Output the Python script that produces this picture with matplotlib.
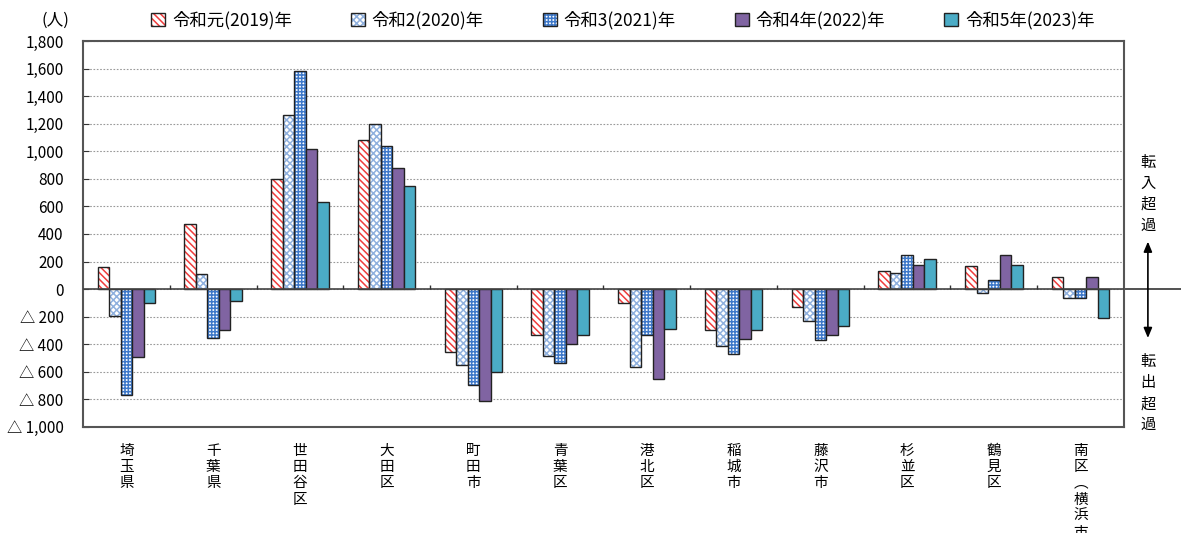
import numpy as np
import matplotlib
matplotlib.use("Agg")
import matplotlib.pyplot as plt
from matplotlib.patches import Patch
from matplotlib.legend_handler import HandlerTuple
from matplotlib.ticker import FuncFormatter, MultipleLocator

plt.rcParams['font.family'] = ['Noto Sans CJK JP', 'DejaVu Sans']
plt.rcParams['hatch.linewidth'] = 1.1

# data (人) - net migration by area
areas = ["埼玉県", "千葉県", "世田谷区", "大田区", "町田市", "青葉区", "港北区",
         "稲城市", "藤沢市", "杉並区", "鶴見区", "南区︵横浜市︶"]
years = ["令和元(2019)年", "令和2(2020)年", "令和3(2021)年", "令和4年(2022)年", "令和5年(2023)年"]
r2019 = [160, 470, 800, 1085, -455, -335, -100, -300, -130, 135, 170, 90]
r2020 = [-195, 110, 1260, 1200, -550, -485, -565, -415, -230, 120, -30, -65]
r2021 = [-770, -355, 1585, 1035, -695, -535, -330, -470, -370, 250, 65, -65]
r2022 = [-490, -295, 1015, 880, -815, -395, -650, -365, -330, 175, 245, 85]
r2023 = [-100, -85, 630, 750, -600, -330, -290, -295, -265, 220, 175, -210]
series = [r2019, r2020, r2021, r2022, r2023]

# style: (face, hatch colour, hatch)
styles = [("white", "#f03c3c", "\\\\\\\\\\"),
          ("white", "#8fb0de", "xxxxx"),
          ("white", "#3d78c9", "+++++"),
          ("#8064a2", None, None),
          ("#4bacc6", None, None)]
edge = "#222222"

fig = plt.figure(figsize=(11.81, 5.33), dpi=100)
ax = fig.add_axes([0.0703, 0.199, 0.8814, 0.724])

x = np.arange(len(areas))
w = 0.133
handles = []
for i, (vals, (face, hc, h)) in enumerate(zip(series, styles)):
    pos = x + (i - 2) * w
    if h:
        ax.bar(pos, vals, w, color=face, edgecolor=hc, hatch=h, linewidth=0, zorder=3)
        ax.bar(pos, vals, w, fill=False, edgecolor=edge, linewidth=1, zorder=4)
        handles.append((Patch(facecolor=face, edgecolor=hc, hatch=h, linewidth=0),
                        Patch(fill=False, edgecolor=edge, linewidth=1)))
    else:
        ax.bar(pos, vals, w, color=face, edgecolor=edge, linewidth=1, zorder=4)
        handles.append(Patch(facecolor=face, edgecolor=edge, linewidth=1))

ax.set_xlim(-0.5, len(areas) - 0.5)
ax.set_ylim(-1000, 1800)
ax.yaxis.set_major_locator(MultipleLocator(200))
ax.yaxis.set_major_formatter(FuncFormatter(
    lambda v, p: f"{v:,.0f}" if v >= 0 else f"△ {-v:,.0f}"))
ax.yaxis.grid(True, linestyle=(0, (1.5, 1.5)), color="#999999", linewidth=0.8, zorder=0)
ax.tick_params(axis="y", direction="in", length=4, labelsize=11, pad=14, colors="#333333",
               labelcolor="black")
ax.set_xticks(x)
ax.set_xticklabels(["\n".join(a) for a in areas], fontsize=10.5, linespacing=1.22, va="top")
ax.tick_params(axis="x", length=0, pad=12)
for s in ax.spines.values():
    s.set_color("#555555")
    s.set_linewidth(1.5)

ax.axhline(0, color="#444444", linewidth=1.2, zorder=5)
ax.vlines(np.arange(0.5, len(areas) - 0.5), 0, 30, color="#333333", linewidth=1, zorder=5)

# right side annotation
ax.plot([1.0, 1.06], [0, 0], color="#333333", linewidth=1.2,
        transform=ax.get_yaxis_transform(), clip_on=False)
ax.annotate("", xy=(1.023, 365), xytext=(1.023, -375),
            xycoords=("axes fraction", "data"), textcoords=("axes fraction", "data"),
            arrowprops=dict(arrowstyle="<|-|>,head_width=0.25,head_length=0.6",
                            color="black", linewidth=1.2))
ax.text(1.023, 690, "転\n入\n超\n過", transform=ax.get_yaxis_transform(), ha="center",
        va="center", fontsize=11, linespacing=1.3)
ax.text(1.023, -755, "転\n出\n超\n過", transform=ax.get_yaxis_transform(), ha="center",
        va="center", fontsize=11, linespacing=1.3)

fig.text(0.047, 0.962, "(人)", fontsize=12, ha="center", va="center")

fig.legend(handles, years, loc="center", bbox_to_anchor=(0.5275, 0.962), ncol=5,
           frameon=False, fontsize=12.5, handlelength=0.8, handleheight=0.8,
           handletextpad=0.4, columnspacing=3.4,
           handler_map={tuple: HandlerTuple(ndivide=1, pad=0)})

fig.savefig("out.png", dpi=100)
